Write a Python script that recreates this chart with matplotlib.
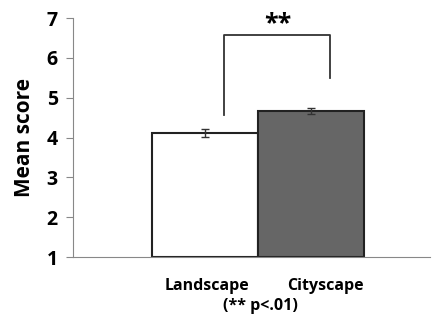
import matplotlib.pyplot as plt
import numpy as np

categories = ['Landscape', 'Cityscape']
means = [4.12, 4.67]
errors = [0.10, 0.08]
colors = ['white', '#666666']

plt.rcParams['font.family'] = ['Open Sans', 'DejaVu Sans']

fig = plt.figure(figsize=(4.36, 3.29), dpi=100)
ax = fig.add_axes([0.1674, 0.2188, 0.8186, 0.7262])

x = np.arange(len(categories))
ax.bar(x, [m - 1 for m in means], bottom=1, width=1.0, color=colors,
       edgecolor='#222222', linewidth=1.5, zorder=2)
ax.errorbar(x, means, yerr=errors, fmt='none', ecolor='#333333',
            elinewidth=1, capsize=3, capthick=1, zorder=3)

ax.set_xlim(-1.25, 2.12)
ax.set_ylim(1, 7)
ax.set_yticks(range(1, 8))
ax.set_xticks([])

for s in ['top', 'right']:
    ax.spines[s].set_visible(False)
ax.spines['left'].set_color('#888888')
ax.spines['bottom'].set_color('#888888')
ax.tick_params(axis='y', direction='out', length=5, color='#888888',
               labelsize=14, pad=6)
for lab in ax.get_yticklabels():
    lab.set_fontweight('bold')

ax.set_ylabel('Mean score', fontsize=15, fontweight='bold', labelpad=8)

# significance bracket
ax.plot([0.18, 0.18, 1.18, 1.18], [4.57, 6.58, 6.58, 5.5],
        color='#333333', linewidth=1.3, clip_on=False)
ax.text(0.68, 6.55, '**', ha='center', va='bottom', fontsize=18,
        fontweight='bold', clip_on=False)

# category labels
tr = ax.get_xaxis_transform()
ax.text(0.02, -0.12, categories[0], ha='center', va='center', fontsize=11.5,
        fontweight='bold', transform=tr, clip_on=False)
ax.text(1.13, -0.12, categories[1], ha='center', va='center', fontsize=11.5,
        fontweight='bold', transform=tr, clip_on=False)
ax.text(0.52, -0.205, '(** p<.01)', ha='center', va='center', fontsize=11.5,
        fontweight='bold', transform=tr, clip_on=False)

fig.savefig('out.png', dpi=100)
